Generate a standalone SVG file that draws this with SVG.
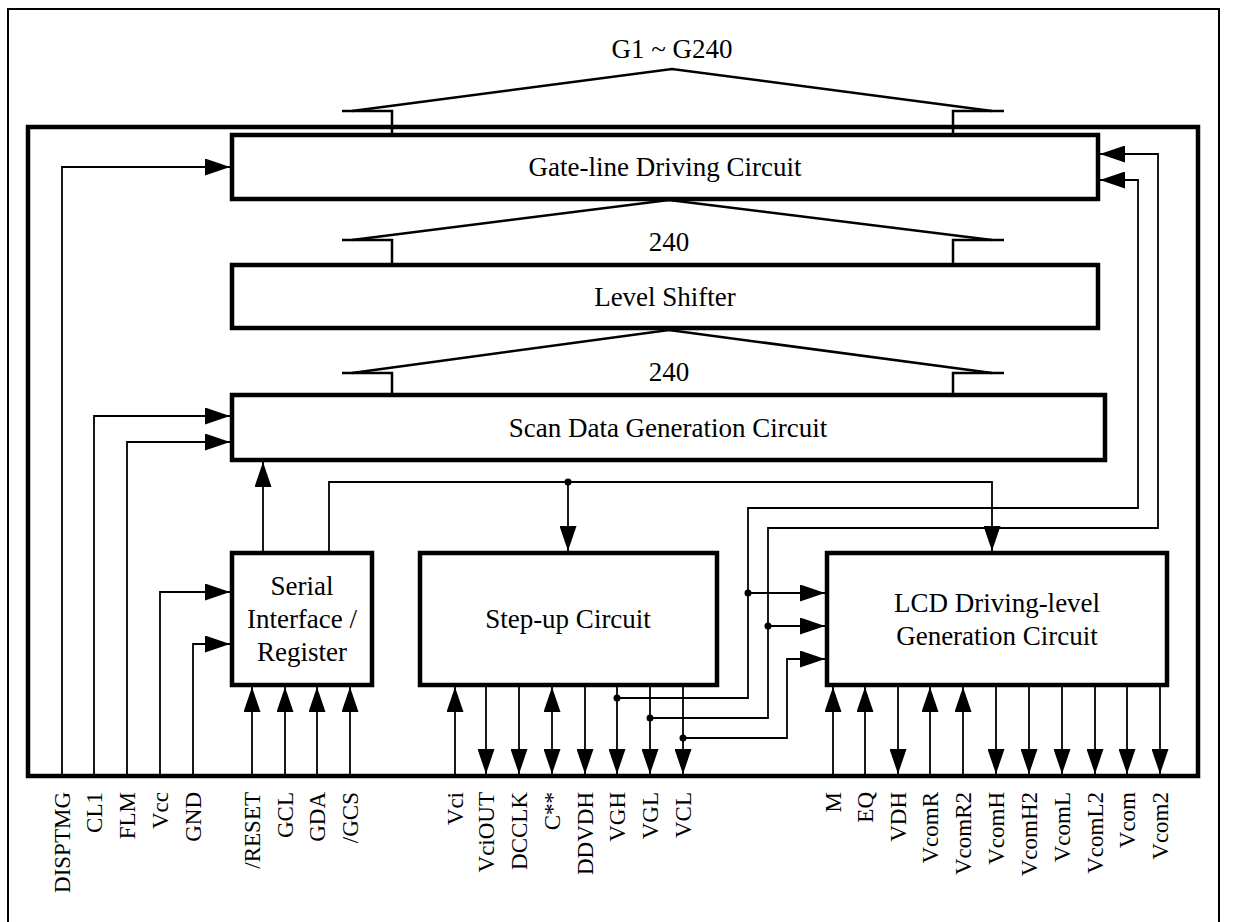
<svg xmlns="http://www.w3.org/2000/svg" width="1248" height="922" viewBox="0 0 1248 922">
<defs>
<marker id="ah" markerUnits="userSpaceOnUse" markerWidth="25" markerHeight="17" refX="25" refY="8.5" orient="auto-start-reverse">
<path d="M0,0 L25,8.5 L0,17 z" fill="#000"/>
</marker>
</defs>
<style>
.box{fill:#fff;stroke:#000;stroke-width:4.5}
.frame{fill:none;stroke:#000;stroke-width:4.5}
.thin{fill:none;stroke:#000;stroke-width:2}
.bus{fill:none;stroke:#000;stroke-width:2.5}
.c{fill:none;stroke:#000;stroke-width:1.8}
.a{marker-end:url(#ah)}
.b{marker-start:url(#ah);marker-end:url(#ah)}
.t{font-family:"Liberation Serif","Times New Roman",serif;font-size:27px;fill:#000;text-anchor:middle}
.p{font-family:"Liberation Serif","Times New Roman",serif;font-size:23px;fill:#000;text-anchor:end}
.dot{fill:#000}
</style>
<path class="thin" d="M8,922 V9 H1219 V922"/>
<rect class="frame" x="28" y="127" width="1170" height="649"/>
<g id="buses">
<polyline class="bus" points="342,111 392,111 392,133"/>
<polyline class="bus" points="953,133 953,111 1004,111"/>
<polyline class="bus" points="352,111 672,69 992,111"/>
<polyline class="bus" points="342,240 392,240 392,263"/>
<polyline class="bus" points="953,263 953,240 1004,240"/>
<polyline class="bus" points="352,240 669,200 992,240"/>
<polyline class="bus" points="342,373 392,373 392,393"/>
<polyline class="bus" points="953,393 953,373 1004,373"/>
<polyline class="bus" points="352,373 669,330 992,373"/>
<text class="t" x="672" y="58">G1 ~ G240</text>
<text class="t" x="669" y="251">240</text>
<text class="t" x="669" y="381">240</text>
</g>
<g id="gate"><rect class="box" x="232" y="135" width="866" height="64"/><text class="t" x="665" y="176">Gate-line Driving Circuit</text></g>
<g id="level"><rect class="box" x="232" y="265" width="866" height="63"/><text class="t" x="665" y="306">Level Shifter</text></g>
<g id="scan"><rect class="box" x="232" y="395" width="873" height="65"/><text class="t" x="668" y="437">Scan Data Generation Circuit</text></g>
<g id="serial"><rect class="box" x="232" y="553" width="140" height="132"/><text class="t" x="302" y="595">Serial</text><text class="t" x="302" y="628">Interface /</text><text class="t" x="302" y="661">Register</text></g>
<g id="stepup"><rect class="box" x="420" y="553" width="297" height="132"/><text class="t" x="568" y="628">Step-up Circuit</text></g>
<g id="lcd"><rect class="box" x="827" y="553" width="340" height="132"/><text class="t" x="997" y="612">LCD Driving-level</text><text class="t" x="997" y="645">Generation Circuit</text></g>
<g id="connectors">
<polyline class="c a" points="62,776 62,167 230,167"/>
<polyline class="c a" points="94,776 94,416 230,416"/>
<polyline class="c a" points="127,776 127,442 230,442"/>
<polyline class="c a" points="160,776 160,592 230,592"/>
<polyline class="c a" points="193,776 193,644 230,644"/>
<line class="c a" x1="263" y1="551" x2="263" y2="462"/>
<polyline class="c a" points="329,551 329,482 992,482 992,551"/>
<line class="c a" x1="568" y1="482" x2="568" y2="551"/>
<circle class="dot" cx="568" cy="482" r="3.5"/>
<line class="c a" x1="252" y1="776" x2="252" y2="687"/>
<line class="c a" x1="285" y1="776" x2="285" y2="687"/>
<line class="c a" x1="317" y1="776" x2="317" y2="687"/>
<line class="c a" x1="350" y1="776" x2="350" y2="687"/>
<line class="c a" x1="455" y1="776" x2="455" y2="687"/>
<line class="c a" x1="486" y1="687" x2="486" y2="774"/>
<line class="c a" x1="519" y1="687" x2="519" y2="774"/>
<line class="c b" x1="552" y1="687" x2="552" y2="774"/>
<line class="c a" x1="585" y1="687" x2="585" y2="774"/>
<line class="c a" x1="617" y1="687" x2="617" y2="774"/>
<line class="c a" x1="650" y1="687" x2="650" y2="774"/>
<line class="c a" x1="683" y1="687" x2="683" y2="774"/>
<polyline class="c a" points="617,698 748,698 748,508 1138,508 1138,180 1100,180"/>
<polyline class="c a" points="650,718 768,718 768,528 1158,528 1158,154 1100,154"/>
<polyline class="c a" points="683,738 787,738 787,659 825,659"/>
<line class="c a" x1="748" y1="593" x2="825" y2="593"/>
<line class="c a" x1="768" y1="626" x2="825" y2="626"/>
<circle class="dot" cx="617" cy="698" r="3.5"/>
<circle class="dot" cx="650" cy="718" r="3.5"/>
<circle class="dot" cx="683" cy="738" r="3.5"/>
<circle class="dot" cx="748" cy="593" r="3.5"/>
<circle class="dot" cx="768" cy="626" r="3.5"/>
<line class="c a" x1="833" y1="776" x2="833" y2="687"/>
<line class="c a" x1="865" y1="776" x2="865" y2="687"/>
<line class="c a" x1="898" y1="687" x2="898" y2="774"/>
<line class="c a" x1="930" y1="776" x2="930" y2="687"/>
<line class="c a" x1="963" y1="776" x2="963" y2="687"/>
<line class="c a" x1="996" y1="687" x2="996" y2="774"/>
<line class="c a" x1="1029" y1="687" x2="1029" y2="774"/>
<line class="c a" x1="1062" y1="687" x2="1062" y2="774"/>
<line class="c a" x1="1095" y1="687" x2="1095" y2="774"/>
<line class="c a" x1="1127" y1="687" x2="1127" y2="774"/>
<line class="c a" x1="1160" y1="687" x2="1160" y2="774"/>
</g>
<g id="pins">
<text class="p" transform="translate(70,792) rotate(-90)">DISPTMG</text>
<text class="p" transform="translate(102,792) rotate(-90)">CL1</text>
<text class="p" transform="translate(135,792) rotate(-90)">FLM</text>
<text class="p" transform="translate(168,792) rotate(-90)">Vcc</text>
<text class="p" transform="translate(201,792) rotate(-90)">GND</text>
<text class="p" transform="translate(260,792) rotate(-90)">/RESET</text>
<text class="p" transform="translate(293,792) rotate(-90)">GCL</text>
<text class="p" transform="translate(325,792) rotate(-90)">GDA</text>
<text class="p" transform="translate(358,792) rotate(-90)">/GCS</text>
<text class="p" transform="translate(463,792) rotate(-90)">Vci</text>
<text class="p" transform="translate(494,792) rotate(-90)">VciOUT</text>
<text class="p" transform="translate(527,792) rotate(-90)">DCCLK</text>
<text class="p" transform="translate(560,792) rotate(-90)">C**</text>
<text class="p" transform="translate(593,792) rotate(-90)">DDVDH</text>
<text class="p" transform="translate(625,792) rotate(-90)">VGH</text>
<text class="p" transform="translate(658,792) rotate(-90)">VGL</text>
<text class="p" transform="translate(691,792) rotate(-90)">VCL</text>
<text class="p" transform="translate(841,792) rotate(-90)">M</text>
<text class="p" transform="translate(873,792) rotate(-90)">EQ</text>
<text class="p" transform="translate(906,792) rotate(-90)">VDH</text>
<text class="p" transform="translate(938,792) rotate(-90)">VcomR</text>
<text class="p" transform="translate(971,792) rotate(-90)">VcomR2</text>
<text class="p" transform="translate(1004,792) rotate(-90)">VcomH</text>
<text class="p" transform="translate(1037,792) rotate(-90)">VcomH2</text>
<text class="p" transform="translate(1070,792) rotate(-90)">VcomL</text>
<text class="p" transform="translate(1103,792) rotate(-90)">VcomL2</text>
<text class="p" transform="translate(1135,792) rotate(-90)">Vcom</text>
<text class="p" transform="translate(1168,792) rotate(-90)">Vcom2</text>
</g>
</svg>
